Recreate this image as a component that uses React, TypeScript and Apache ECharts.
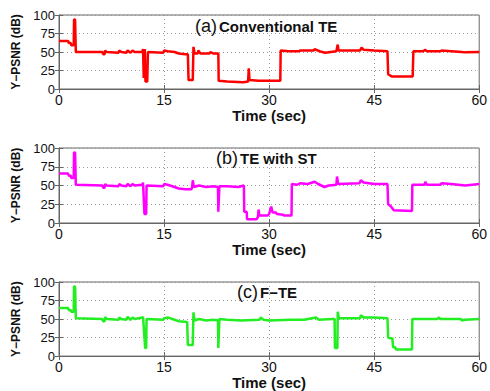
import React, { useEffect, useRef } from "react";
import * as echarts from "echarts";

const xTicks = [0, 15, 30, 45, 60];
const yTicks = [0, 25, 50, 75, 100];
const panelTitles = ["(a)", "(b)", "(c)"];
const panelNames = ["Conventional TE", "TE with ST", "F\u2212TE"];
const seriesColors = ["#ff0000", "#ff00ff", "#22ee22"];

const conventionalTE: number[][] = [
  [0, 65], [1.3, 65], [1.4, 62], [1.7, 62], [1.75, 59], [2.1, 59], [2.15, 94], [2.3, 94], [2.4, 50],
  [6.2, 50], [6.3, 47], [6.5, 47], [6.6, 52], [6.8, 50], [8.5, 49], [8.6, 52], [8.9, 50], [9.6, 49],
  [9.8, 52], [10.2, 49], [10.5, 52], [10.8, 50], [11.9, 50], [12.0, 54], [12.1, 15], [12.25, 54],
  [12.35, 10], [12.6, 10], [12.7, 50], [14.9, 49], [15.0, 52], [15.5, 51], [16.5, 50], [17.1, 48],
  [18.0, 47], [18.4, 47], [18.5, 12], [19.1, 12], [19.2, 57], [19.35, 48], [19.8, 48], [19.9, 52],
  [20.2, 48], [21.5, 48], [21.6, 50], [22.0, 48], [22.75, 48], [22.8, 11], [24.0, 10], [26.3, 9],
  [27.0, 10], [27.1, 28], [27.2, 12], [28.5, 11], [31.6, 11], [31.65, 52], [32.8, 51], [34.3, 51],
  [34.4, 52], [36.4, 52], [36.5, 54], [37.2, 51], [38.0, 49], [38.8, 50], [39.6, 51], [39.8, 60],
  [39.9, 52], [43.0, 52], [43.2, 56], [43.5, 53], [45, 52], [46.9, 51], [47.0, 20], [47.5, 17],
  [50.5, 17], [50.6, 51], [52.0, 51], [52.3, 53], [52.5, 51], [54.5, 51], [54.6, 52], [57.5, 50],
  [58, 49.5], [60, 50],
];

const teWithST: number[][] = [
  [0, 66], [1.3, 66], [1.4, 63], [1.7, 63], [1.75, 60], [2.1, 60], [2.15, 94], [2.3, 94], [2.4, 51],
  [6.2, 50], [6.3, 47], [6.5, 47], [6.6, 52], [6.8, 50], [8.5, 49], [8.6, 52], [8.9, 50], [9.6, 49],
  [9.8, 52], [10.2, 49], [10.5, 52], [10.8, 50], [11.9, 51], [12.0, 54], [12.2, 12], [12.45, 12],
  [12.5, 50], [14.9, 49], [15.0, 52], [15.5, 51], [16.5, 48], [17.1, 46], [18.0, 45], [18.9, 45],
  [19.0, 47], [19.1, 57], [19.25, 48], [20, 50], [21.0, 48], [22.0, 49], [22.7, 48], [22.75, 15],
  [22.85, 15], [22.9, 49], [24.0, 49], [25.6, 48], [26.4, 50], [26.45, 15], [26.8, 15], [26.85, 5],
  [28.2, 5], [28.4, 8], [28.5, 18], [28.6, 10], [29.8, 10], [30.0, 12], [30.3, 22], [30.5, 14],
  [31.0, 14], [31.1, 12], [32.0, 11], [32.1, 10], [33.2, 10], [33.25, 52], [34.0, 51], [34.4, 53],
  [35.5, 52], [36.5, 55], [37.0, 52], [37.9, 48], [38.5, 50], [39.6, 51], [39.7, 62], [39.85, 52],
  [42.9, 53], [43.1, 57], [43.5, 54], [45, 52], [46.9, 52], [47.0, 25], [47.4, 22], [47.8, 17],
  [50.4, 16], [50.45, 51], [52.2, 51], [52.3, 55], [52.5, 51], [54.5, 51], [54.6, 53], [56, 52],
  [58, 50], [60, 52],
];

const fTE: number[][] = [
  [0, 65], [1.3, 65], [1.4, 62], [1.7, 62], [1.75, 60], [2.1, 60], [2.15, 94], [2.3, 94], [2.4, 51],
  [6.2, 50], [6.3, 47], [6.5, 47], [6.6, 53], [6.8, 50], [8.5, 49], [8.6, 52], [8.9, 50], [9.6, 49],
  [9.8, 53], [10.2, 49], [10.5, 52], [10.8, 50], [11.9, 52], [12.0, 53], [12.3, 11], [12.45, 11],
  [12.5, 50], [14.9, 49], [15.0, 51], [15.6, 52], [16.5, 49], [17.1, 47], [18.3, 46], [18.4, 15],
  [19.1, 15], [19.2, 59], [19.35, 48], [20, 50], [21.0, 48], [22.0, 49], [22.7, 48], [22.75, 11],
  [22.85, 11], [22.9, 50], [24.0, 49], [26, 48], [28.6, 49], [28.8, 52], [29.2, 49], [30, 48],
  [33, 49], [35, 49], [36.7, 52], [37.1, 49], [39.0, 50], [39.35, 50], [39.4, 11], [39.75, 11],
  [39.8, 60], [39.95, 51], [43.0, 51], [43.1, 55], [43.5, 52], [45, 52], [46.9, 51], [47.0, 25],
  [47.3, 24], [47.6, 24], [47.7, 12], [48.0, 12], [48.1, 9], [50.4, 9], [50.45, 50], [52, 50],
  [54.0, 50], [54.2, 52], [54.5, 50], [57.4, 50], [57.5, 48], [58, 49], [60, 50],
];

const allSeries = [conventionalTE, teWithST, fTE];

const FONT = "'Liberation Sans', Arial, sans-serif";
const gridTops = [15, 148, 282];
const gridHeights = [74, 75, 75];
const titleLefts = [195, 216, 237];
const titleTops = [17, 149, 283];

export default function App() {
  const ref = useRef<HTMLDivElement>(null);
  useEffect(() => {
    if (!ref.current) return;
    const chart = echarts.init(ref.current, undefined, { renderer: "svg" });
    const frame = "#666";
    const grids = gridTops.map((t, i) => ({
      left: 59,
      right: 7,
      top: t,
      height: gridHeights[i],
      show: true,
      borderColor: frame,
      borderWidth: 1,
      backgroundColor: "#fff",
    }));
    const xAxes: any[] = [];
    const yAxes: any[] = [];
    gridTops.forEach((_, i) => {
      xAxes.push({
        gridIndex: i,
        type: "value",
        min: xTicks[0],
        max: xTicks[xTicks.length - 1],
        interval: 15,
        axisLine: { show: true, lineStyle: { color: frame } },
        axisTick: { show: true, inside: true, length: 4, lineStyle: { color: frame } },
        axisLabel: { fontSize: 14, color: "#111", margin: 4, fontFamily: FONT },
        splitLine: { show: true, lineStyle: { color: "#999", type: [1, 3], width: 1 } },
        name: "Time (sec)",
        nameLocation: "middle",
        nameGap: 18,
        nameTextStyle: { fontSize: 15, fontWeight: "bold", color: "#111", fontFamily: FONT },
      });
      xAxes.push({
        gridIndex: i,
        type: "value",
        position: "top",
        min: xTicks[0],
        max: xTicks[xTicks.length - 1],
        interval: 15,
        axisLine: { show: false },
        axisTick: { show: true, inside: true, length: 4, lineStyle: { color: frame } },
        axisLabel: { show: false },
        splitLine: { show: false },
      });
      yAxes.push({
        gridIndex: i,
        type: "value",
        min: yTicks[0],
        max: yTicks[yTicks.length - 1],
        interval: 25,
        axisLine: { show: true, lineStyle: { color: frame } },
        axisTick: { show: true, inside: true, length: 4, lineStyle: { color: frame } },
        axisLabel: { fontSize: 13, color: "#111", margin: 4, fontFamily: FONT },
        splitLine: { show: true, lineStyle: { color: "#999", type: [1, 3], width: 1 } },
        name: "Y\u2212PSNR (dB)",
        nameLocation: "middle",
        nameGap: 34,
        nameTextStyle: { fontSize: 12, fontWeight: "bold", color: "#111", fontFamily: FONT },
      });
      yAxes.push({
        gridIndex: i,
        type: "value",
        position: "right",
        min: yTicks[0],
        max: yTicks[yTicks.length - 1],
        interval: 25,
        axisLine: { show: false },
        axisTick: { show: true, inside: true, length: 4, lineStyle: { color: frame } },
        axisLabel: { show: false },
        splitLine: { show: false },
      });
    });
    const series = allSeries.map((d, i) => ({
      type: "line",
      xAxisIndex: i * 2,
      yAxisIndex: i * 2,
      data: d,
      showSymbol: false,
      symbol: "none",
      lineStyle: { color: seriesColors[i], width: 2.5 },
      itemStyle: { color: seriesColors[i] },
      z: 3,
    }));
    const titles = panelTitles.map((p, i) => ({
      left: titleLefts[i],
      top: titleTops[i],
      padding: 0,
      text: `{a|${p}}{b|${panelNames[i]}}`,
      textStyle: {
        fontWeight: "normal",
        rich: {
          a: { fontSize: 18, fontWeight: "normal", color: "#111", fontFamily: FONT, verticalAlign: "middle", padding: [0, 2, 0, 0] },
          b: { fontSize: 15, fontWeight: "bold", color: "#111", fontFamily: FONT, verticalAlign: "middle" },
        },
      },
      z: 10,
    }));
    chart.setOption({
      animation: false,
      backgroundColor: "#fff",
      title: titles,
      grid: grids,
      xAxis: xAxes,
      yAxis: yAxes,
      series,
    });
    return () => chart.dispose();
  }, []);
  return (
    <div
      ref={ref}
      style={{ position: "absolute", left: 0, top: 0, width: 490, height: 391, background: "#fff" }}
    />
  );
}
